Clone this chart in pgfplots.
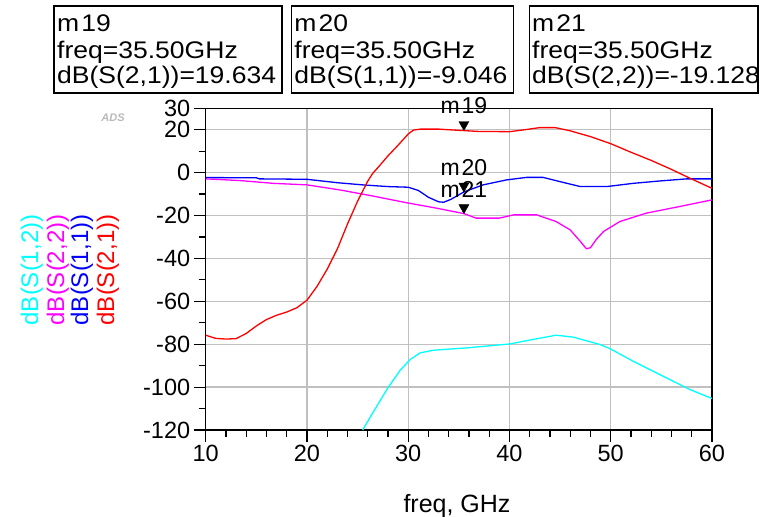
\documentclass[border=0pt]{standalone}
\usepackage{pgfplots}
\pgfplotsset{compat=1.18}
\usepackage{fontspec}
\setmainfont{Liberation Sans}
\newfontfamily\boxfont[FakeStretch=1.105]{Liberation Sans}
\definecolor{adsred}{RGB}{255,0,0}
\definecolor{adsblue}{RGB}{0,0,255}
\definecolor{adsmag}{RGB}{255,0,255}
\definecolor{adscyan}{RGB}{0,255,255}
\definecolor{gridgray}{RGB}{192,192,192}
\pgfdeclareplotmark{dtri}{%
  \pgfpathmoveto{\pgfpoint{0pt}{0pt}}%
  \pgfpathlineto{\pgfpoint{-5pt}{9pt}}%
  \pgfpathlineto{\pgfpoint{5pt}{9pt}}%
  \pgfpathclose\pgfusepathqfillstroke}
\begin{document}
\begin{tikzpicture}
\useasboundingbox (-205.7pt,-87pt) rectangle (563.3pt,430pt);
\begin{axis}[
  scale only axis, width=506.3pt, height=321.7pt,
  at={(0pt,0pt)}, anchor=south west,
  xmin=10, xmax=60, ymin=-120, ymax=30,
  xtick={10,20,...,60}, ytick={-120,-100,...,20,30},
  minor xtick={12,14,...,58}, minor ytick={-110,-90,...,10},
  xtick pos=bottom, ytick pos=left,
  xmajorgrids=true, ymajorgrids=true,
  major grid style={draw=gridgray, line width=1.4pt},
  axis line style={black, line width=1.4pt},
  major tick style={black, line width=1.2pt},
  minor tick style={black, line width=1.2pt},
  tick align=outside, major tick length=12pt, minor tick length=7pt,
  tick label style={font=\fontsize{23.5}{26}\selectfont},
  /pgf/number format/assume math mode=true,
  clip=false,
]
\addplot[adscyan, line width=1.3pt] coordinates {
(25.5,-120)(26.5,-112)(28,-100.3)(29.2,-92.2)(30.2,-87.1)(31.2,-84)(32.5,-82.8)
(35.8,-81.7)(40,-79.9)(42.3,-77.8)(44.6,-75.8)(46.3,-76.7)(48.9,-80.1)(49.9,-82)
(52.2,-87.9)(55.5,-95.7)(57.8,-101.1)(60,-105.3)};
\addplot[adsmag, line width=1.3pt] coordinates {
(10,-2.9)(13.4,-3.7)(16.7,-5)(20,-5.7)(23.3,-8.1)(26.5,-10.9)(29.8,-14)(32.5,-16.3)
(35.5,-19.1)(36.7,-21.2)(39,-21.2)(40.4,-19.7)(42.7,-19.7)(44.6,-22.8)(46,-26.7)
(47,-32.1)(47.6,-35.5)(48,-35)(48.6,-31)(49.3,-27.4)(50.9,-22.8)(53.5,-18.9)
(56.8,-15.8)(60,-12.7)};
\addplot[adsblue, line width=1.3pt] coordinates {
(10,-2.3)(15,-2.4)(15.3,-2.9)(20,-3.1)(23,-4.7)(25.5,-5.7)(28,-6.5)(30,-6.8)
(31,-8.3)(32,-11.5)(33,-13.6)(33.5,-13.8)(34.2,-12.5)(35.5,-9)(37.4,-5.7)
(39.7,-3.4)(41.7,-2.2)(43.3,-2.2)(45,-4.2)(47,-6.5)(49.6,-6.5)(52.2,-5)
(54.8,-3.9)(57.5,-2.9)(60,-2.9)};
\addplot[adsred, line width=1.3pt] coordinates {
(10,-75.8)(11,-77.3)(12,-77.6)(13,-77.4)(14,-75)(15,-71.5)(16,-68.5)(17,-66.5)
(18,-65)(19,-63)(20,-59.5)(21,-53)(22,-45)(23,-35.6)(24,-24)(25,-13.3)(26,-4)
(26.5,-0.3)(27,2.3)(28,7.8)(29,12.8)(30,18)(30.5,19.8)(31.2,20.3)(33,20.3)(34,20)
(35.5,19.6)(37,19.2)(40,19.1)(41.5,20)(43,21)(44.5,21)(46,19.5)(48,16.8)(50,13.5)
(52,9.5)(54,5.7)(56,1.5)(58,-3)(60,-7.3)};
\addplot[only marks, mark=dtri, mark options={black, fill=black},
  nodes near coords, point meta=explicit symbolic,
  every node near coord/.style={anchor=south, yshift=13pt, black,
    font=\fontsize{23}{26}\selectfont}]
  coordinates {(35.5,19.634)[m\kern2pt19] (35.5,-9.046)[m\kern2pt20] (35.5,-19.128)[m\kern2pt21]};
\end{axis}
% marker readout boxes
\draw[black, line width=1.4pt] (-151.7pt,424pt) rectangle (76.3pt,337pt);
\draw[black, line width=1.4pt] (85.6pt,424pt) rectangle (307.8pt,337pt);
\draw[black, line width=1.4pt] (323.8pt,424pt) rectangle (552.3pt,337pt);
\begin{scope}[every node/.style={anchor=base west, inner sep=0pt, font=\boxfont\fontsize{24}{26}\selectfont}]
\node at (-148.7pt,398pt) {m\kern2pt19};
\node at (-148.7pt,371pt) {freq=35.50GHz};
\node at (-148.7pt,346pt) {dB(S(2,1))=19.634};
\node at (88.6pt,398pt) {m\kern2pt20};
\node at (88.6pt,371pt) {freq=35.50GHz};
\node at (88.6pt,346pt) {dB(S(1,1))=-9.046};
\node at (326.3pt,398pt) {m\kern2pt21};
\node at (326.3pt,371pt) {freq=35.50GHz};
\node at (326.3pt,346pt) {dB(S(2,2))=-19.128};
\end{scope}
% y labels
\begin{scope}[every node/.style={rotate=90, anchor=center, inner sep=0pt, font=\fontsize{24}{26}\selectfont}]
\node[adscyan] at (-173.7pt,160pt) {dB(S(1,2))};
\node[adsmag] at (-147.7pt,160pt) {dB(S(2,2))};
\node[adsblue] at (-123.7pt,160pt) {dB(S(1,1))};
\node[adsred] at (-97.7pt,160pt) {dB(S(2,1))};
\end{scope}
\node[anchor=center, text=gray!55, font=\bfseries\itshape\fontsize{11}{12}\selectfont] at (-92.7pt,312pt) {ADS};
\node[anchor=base, inner sep=0pt, font=\fontsize{25}{28}\selectfont] at (251.3pt,-82pt) {freq, GHz};
\end{tikzpicture}
\end{document}
